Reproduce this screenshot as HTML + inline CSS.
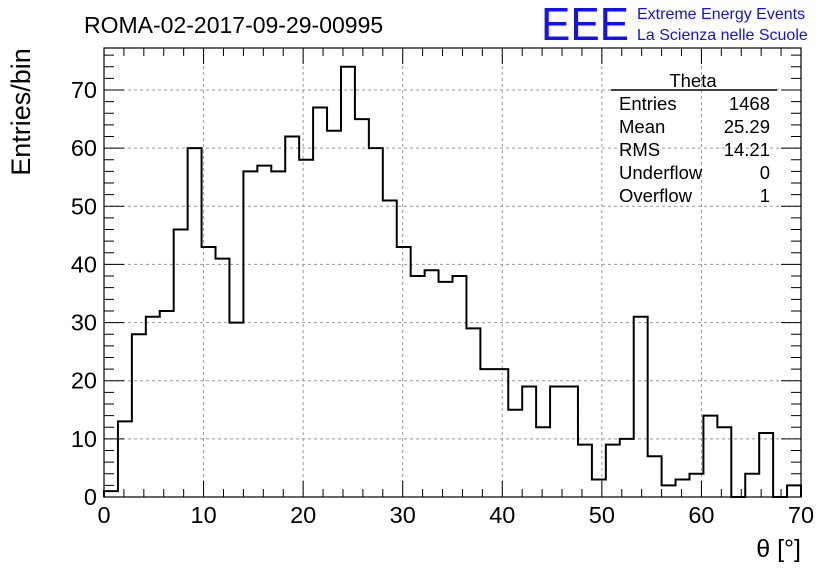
<!DOCTYPE html>
<html><head><meta charset="utf-8"><style>
body{margin:0;background:#fff;}
svg{display:block;font-family:"Liberation Sans",sans-serif;}
</style></head><body>
<svg id="c" width="836" height="572" viewBox="0 0 836 572">
<rect width="836" height="572" fill="#fff"/>
<text x="84" y="33" font-size="23">ROMA-02-2017-09-29-00995</text>
<text x="541" y="40" font-size="46" fill="#1010ff" textLength="88" lengthAdjust="spacingAndGlyphs">EEE</text>
<text x="637" y="19" font-size="16" fill="#1010ff">Extreme Energy Events</text>
<text x="637" y="40" font-size="16" fill="#1010ff">La Scienza nelle Scuole</text>
<g id="grid"></g>
<g id="axes"></g>
<path id="hist" fill="none" stroke="#000" stroke-width="2"/>
<rect x="104" y="48" width="697" height="449" fill="none" stroke="#000" stroke-width="1.2"/>
<text transform="translate(30,112) rotate(-90)" text-anchor="middle" font-size="27">Entries/bin</text>
<text x="801" y="557" text-anchor="end" font-size="25">θ [°]</text>
<g font-size="18.5">
<text x="693" y="87" text-anchor="middle">Theta</text>
<line x1="611" y1="90" x2="777" y2="90" stroke="#000" stroke-width="1.5"/>
<text x="619" y="110">Entries</text><text x="770" y="110" text-anchor="end">1468</text>
<text x="619" y="133">Mean</text><text x="770" y="133" text-anchor="end">25.29</text>
<text x="619" y="156">RMS</text><text x="770" y="156" text-anchor="end">14.21</text>
<text x="619" y="179">Underflow</text><text x="770" y="179" text-anchor="end">0</text>
<text x="619" y="202">Overflow</text><text x="770" y="202" text-anchor="end">1</text>
</g>
</svg>
<script>
const binEdgesStart = 0;
const binWidth = 1.4;
const counts = [1,13,28,31,32,46,60,43,41,30,56,57,56,62,58,67,63,74,65,60,51,43,38,39,37,38,29,22,22,15,19,12,19,19,9,3,9,10,31,7,2,3,4,14,12,0,4,11,0,2];
const xTicks = [0,10,20,30,40,50,60,70];
const yTicks = [0,10,20,30,40,50,60,70];
const NS='http://www.w3.org/2000/svg';
const X0=104,X1=801,Y0=497,Y1=90;
const sx=v=>X0+(v-0)*(X1-X0)/70;
const sy=v=>Y0-(v)*(Y0-Y1)/70;
function mk(t,a,p){const e=document.createElementNS(NS,t);for(const k in a)e.setAttribute(k,a[k]);p.appendChild(e);return e;}
const grid=document.getElementById('grid'),axes=document.getElementById('axes');
xTicks.forEach(v=>{
  if(v>0&&v<70){const l=mk('line',{x1:sx(v),x2:sx(v),y1:48,y2:Y0,stroke:'#999','stroke-dasharray':'3,3','stroke-width':1},grid);
  
  }
  const t=mk('text',{x:sx(v),y:523,'text-anchor':'middle','font-size':23.5},axes);t.textContent=v;
  
  
});
yTicks.forEach(v=>{
  if(v>0){const l=mk('line',{x1:X0,x2:X1,y1:sy(v),y2:sy(v),stroke:'#999','stroke-dasharray':'3,3','stroke-width':1},grid);
  
  }
  const t=mk('text',{x:97,y:sy(v)+8,'text-anchor':'end','font-size':23.5},axes);t.textContent=v;
  
  
});
let d='';
for(let v=0;v<=70;v+=2){const big=v%10===0,L=big?16:8,x=sx(v);d+=`M${x},${Y0}v${-L}M${x},48v${L}`;}
for(let v=0;v<=76;v+=2){const y=sy(v);if(y<48)continue;const big=v%10===0,L=big?20:10;d+=`M${X0},${y}h${L}M${X1},${y}h${-L}`;}
const tk=mk('path',{d:d,stroke:'#000','stroke-width':1,fill:'none'},axes);


let p=`M${sx(binEdgesStart)},${sy(0)}`;
counts.forEach((c,i)=>{const a=sx(binEdgesStart+i*binWidth),b=sx(binEdgesStart+(i+1)*binWidth);p+=`L${a},${sy(c)}L${b},${sy(c)}`;});
p+=`L${sx(binEdgesStart+counts.length*binWidth)},${sy(0)}`;
document.getElementById('hist').setAttribute('d',p);
</script>
</body></html>
